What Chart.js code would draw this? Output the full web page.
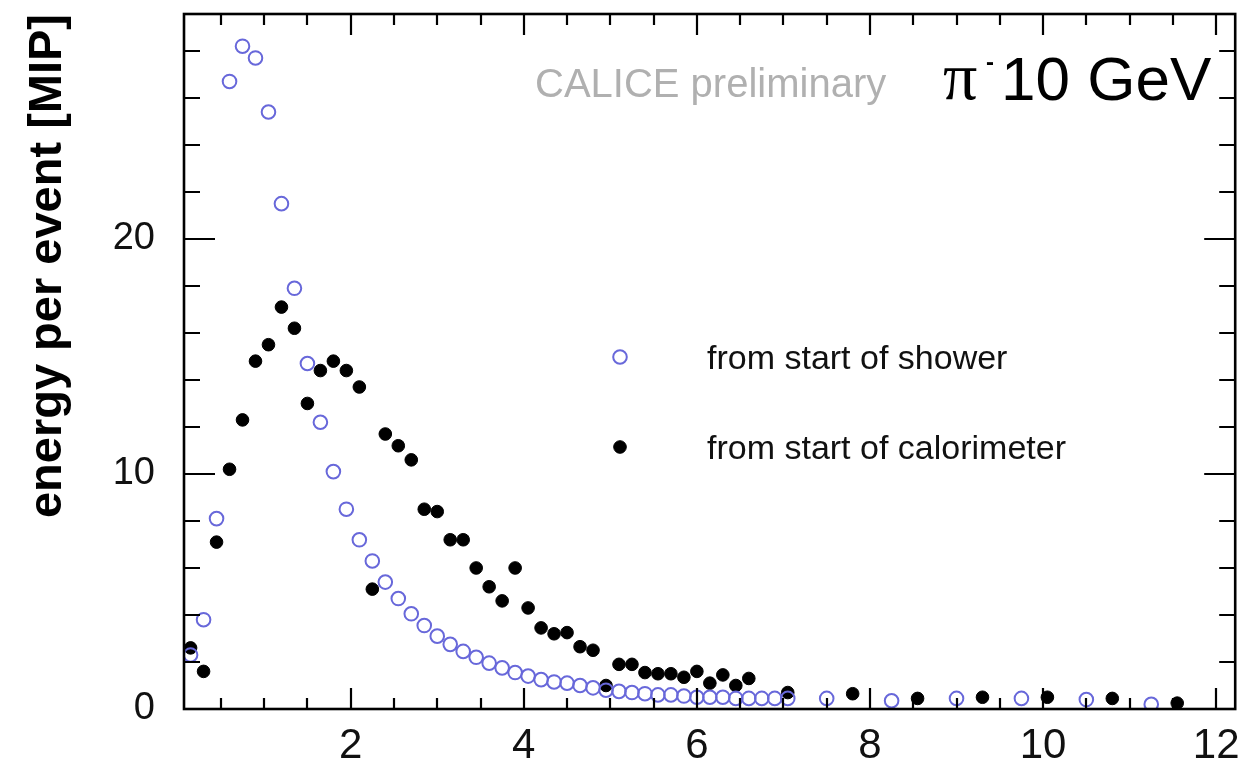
<!DOCTYPE html>
<html>
<head>
<meta charset="utf-8">
<title>CALICE longitudinal profile</title>
<script src="https://cdn.jsdelivr.net/npm/chart.js@4"></script>
<style>
    html, body { margin: 0; padding: 0; background: #fff; }
    #profile { display: block; }
</style>
</head>
<body>
<canvas id="profile" width="1244" height="779"></canvas>
<script>
// x positions [lambda] and energy per event [MIP]
const showerX = [
    0.15, 0.30, 0.45, 0.60, 0.75, 0.90, 1.05, 1.20, 1.35, 1.50, 1.65, 1.80,
    1.95, 2.10, 2.25, 2.40, 2.55, 2.70, 2.85, 3.00, 3.15, 3.30, 3.45, 3.60,
    3.75, 3.90, 4.05, 4.20, 4.35, 4.50, 4.65, 4.80, 4.95, 5.10, 5.25, 5.40,
    5.55, 5.70, 5.85, 6.00, 6.15, 6.30, 6.45, 6.60, 6.75, 6.90, 7.05,
    7.50, 8.25, 9.00, 9.75, 10.50, 11.25
];
const showerE = [
    2.3, 3.8, 8.1, 26.7, 28.2, 27.7, 25.4, 21.5, 17.9, 14.7, 12.2, 10.1,
    8.5, 7.2, 6.3, 5.4, 4.7, 4.05, 3.55, 3.1, 2.75, 2.45, 2.2, 1.95,
    1.75, 1.55, 1.4, 1.25, 1.15, 1.1, 1.0, 0.9, 0.8, 0.75, 0.7, 0.65,
    0.6, 0.6, 0.55, 0.5, 0.5, 0.5, 0.45, 0.45, 0.45, 0.45, 0.45,
    0.45, 0.35, 0.45, 0.45, 0.4, 0.2
];
const caloX = [
    0.15, 0.30, 0.45, 0.60, 0.75, 0.90, 1.05, 1.20, 1.35, 1.50, 1.65, 1.80,
    1.95, 2.10, 2.25, 2.40, 2.55, 2.70, 2.85, 3.00, 3.15, 3.30, 3.45, 3.60,
    3.75, 3.90, 4.05, 4.20, 4.35, 4.50, 4.65, 4.80, 4.95, 5.10, 5.25, 5.40,
    5.55, 5.70, 5.85, 6.00, 6.15, 6.30, 6.45, 6.60,
    7.05, 7.80, 8.55, 9.30, 10.05, 10.80, 11.55
];
const caloE = [
    2.6, 1.6, 7.1, 10.2, 12.3, 14.8, 15.5, 17.1, 16.2, 13.0, 14.4, 14.8,
    14.4, 13.7, 5.1, 11.7, 11.2, 10.6, 8.5, 8.4, 7.2, 7.2, 6.0, 5.2,
    4.6, 6.0, 4.3, 3.45, 3.2, 3.25, 2.65, 2.5, 1.0, 1.9, 1.9, 1.55,
    1.5, 1.5, 1.35, 1.6, 1.1, 1.45, 1.0, 1.3,
    0.7, 0.65, 0.45, 0.5, 0.5, 0.45, 0.25
];
const xTickValues = [2, 4, 6, 8, 10, 12];
const yTickValues = [0, 10, 20];
const seriesLabels = ['from start of shower', 'from start of calorimeter'];

const BLUE = '#6868da';
const SANS = '"Liberation Sans", Arial, Helvetica, sans-serif';

const toPoints = (xs, ys) => xs.map((x, i) => ({ x: x, y: ys[i] }));

// ROOT style frame: ticks pointing inward on all four sides
const rootFrame = {
    id: 'rootFrame',
    afterDraw(chart) {
        const { ctx, chartArea: a, scales: { x, y } } = chart;
        ctx.save();
        ctx.strokeStyle = '#000';
        ctx.lineWidth = 2.2;
        ctx.beginPath();
        for (let v = 0.5; v <= 12.01; v += 0.5) {
            const px = Math.round(x.getPixelForValue(v));
            const len = Math.abs(v % 2) < 0.01 ? 21 : 11;
            ctx.moveTo(px, a.bottom); ctx.lineTo(px, a.bottom - len);
            ctx.moveTo(px, a.top); ctx.lineTo(px, a.top + len);
        }
        for (let v = 2; v <= 28; v += 2) {
            const py = Math.round(y.getPixelForValue(v));
            const len = v % 10 === 0 ? 31 : 16;
            ctx.moveTo(a.left, py); ctx.lineTo(a.left + len, py);
            ctx.moveTo(a.right, py); ctx.lineTo(a.right - len, py);
        }
        ctx.stroke();
        ctx.lineWidth = 2.6;
        ctx.strokeRect(a.left, a.top, a.right - a.left, a.bottom - a.top);
        ctx.restore();
    }
};

// labels and legend inside the frame
const annotations = {
    id: 'annotations',
    afterDraw(chart) {
        const { ctx } = chart;
        ctx.save();
        ctx.textAlign = 'left';
        ctx.textBaseline = 'alphabetic';

        ctx.fillStyle = '#b0b0b0';
        ctx.font = '40px ' + SANS;
        ctx.fillText('CALICE preliminary', 535, 97);

        ctx.fillStyle = '#000';
        ctx.font = '68px "Liberation Serif", "Times New Roman", serif';
        ctx.fillText('\u03c0', 943, 99);
        ctx.font = 'bold 24px ' + SANS;
        ctx.fillText('-', 986, 70);
        ctx.font = '62px ' + SANS;
        ctx.fillText('10 GeV', 1001, 100);

        const ds = chart.data.datasets;
        const rows = [[357, 360], [447, 450]];
        ctx.font = '34px ' + SANS;
        ctx.textBaseline = 'middle';
        ds.forEach((d, i) => {
            const [my, ty] = rows[i];
            ctx.beginPath();
            ctx.arc(620, my, d.pointRadius, 0, Math.PI * 2);
            if (d.backgroundColor !== 'transparent') {
                ctx.fillStyle = d.backgroundColor;
                ctx.fill();
            }
            ctx.lineWidth = d.borderWidth;
            ctx.strokeStyle = d.borderColor;
            ctx.stroke();
            ctx.fillStyle = '#111';
            ctx.fillText(d.label, 707, ty);
        });
        ctx.restore();
    }
};

const chart = new Chart(document.getElementById('profile'), {
    type: 'scatter',
    data: {
        datasets: [
            {
                label: seriesLabels[0],
                data: toPoints(showerX, showerE),
                pointStyle: 'circle',
                pointRadius: 6.8,
                borderWidth: 2,
                borderColor: BLUE,
                backgroundColor: 'transparent'
            },
            {
                label: seriesLabels[1],
                data: toPoints(caloX, caloE),
                pointStyle: 'circle',
                pointRadius: 6.3,
                borderWidth: 1,
                borderColor: '#000',
                backgroundColor: '#000'
            }
        ]
    },
    options: {
        responsive: false,
        animation: false,
        devicePixelRatio: 1,
        layout: { padding: { left: 0, top: 14, right: 2, bottom: 0 } },
        plugins: {
            legend: { display: false },
            tooltip: { enabled: false }
        },
        scales: {
            x: {
                type: 'linear',
                min: 0.074,
                max: 12.22,
                grid: { display: false, drawTicks: false },
                border: { display: false },
                afterBuildTicks: (scale) => {
                    scale.ticks = xTickValues.map(v => ({ value: v }));
                },
                afterFit: (scale) => {
                    scale.height = 70;
                    scale.paddingLeft = 0;
                    scale.paddingRight = 0;
                },
                ticks: {
                    padding: 0,
                    color: '#111',
                    maxRotation: 0,
                    font: { family: SANS, size: 42, lineHeight: 1.76 }
                }
            },
            y: {
                type: 'linear',
                min: 0,
                max: 29.57,
                grid: { display: false, drawTicks: false },
                border: { display: false },
                afterBuildTicks: (scale) => {
                    scale.ticks = yTickValues.map(v => ({ value: v }));
                },
                afterFit: (scale) => {
                    scale.width = 184;
                    scale.paddingTop = 0;
                    scale.paddingBottom = 0;
                },
                ticks: {
                    padding: 29,
                    color: '#111',
                    font: { family: SANS, size: 38 }
                },
                title: {
                    display: true,
                    text: 'energy per event [MIP]',
                    align: 'end',
                    color: '#000',
                    padding: { top: 20, bottom: 0 },
                    font: { family: SANS, size: 47, weight: 'bold' }
                }
            }
        }
    },
    plugins: [rootFrame, annotations]
});
</script>
</body>
</html>
